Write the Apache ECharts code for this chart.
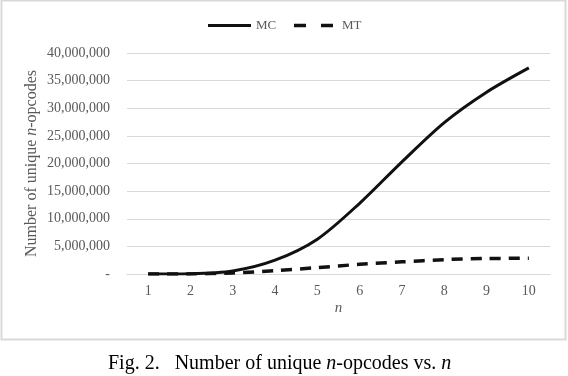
<!DOCTYPE html>
<html>
<head>
<meta charset="utf-8">
<script src="https://cdn.jsdelivr.net/npm/echarts@6/dist/echarts.min.js"></script>
<style>
  html, body { margin: 0; padding: 0; background: #fff; }
  #chart { width: 568px; height: 376px; }
</style>
</head>
<body>
<div id="chart"></div>
<script>
// n values on the x axis
var categories = ["1", "2", "3", "4", "5", "6", "7", "8", "9", "10"];
// unique n-opcode counts
var mcData = [5000, 60000, 550000, 2500000, 6300000, 12800000, 20300000, 27400000, 32900000, 37300000];
var mtData = [3000, 20000, 200000, 600000, 1150000, 1750000, 2200000, 2600000, 2800000, 2850000];

var serif = "Liberation Serif";
var grey = "#595959";

var myChart = echarts.init(document.getElementById("chart"));
var option = {
  animation: false,
  textStyle: { fontFamily: serif },
  // caption under the chart frame
  title: {
    left: 103,
    top: 349,
    text: "{a|Fig. 2.   Number of unique }{i|n}{a|-opcodes vs. }{i|n}",
    textStyle: {
      rich: {
        a: { fontFamily: serif, fontSize: 20, fontWeight: "normal", color: "#000" },
        i: { fontFamily: serif, fontSize: 20, fontWeight: "normal", color: "#000", fontStyle: "italic" }
      }
    }
  },
  // light grey frame round the chart area
  graphic: [{
    type: "rect",
    shape: { x: 1.5, y: 0.5, width: 564, height: 339 },
    style: { fill: "none", stroke: "#d9d9d9", lineWidth: 2 }
  }],
  legend: {
    top: 14,
    left: "center",
    itemWidth: 43,
    itemHeight: 14,
    itemGap: 16,
    itemStyle: { opacity: 0 },
    lineStyle: { width: 3 },
    textStyle: { fontFamily: serif, fontSize: 13, color: grey },
    data: [
      { name: "MC" },
      { name: "MT", lineStyle: { type: [12, 15], width: 3.5 } }
    ]
  },
  grid: { left: 127, right: 18, top: 53, bottom: 102 },
  xAxis: {
    type: "category",
    data: categories,
    name: "n",
    nameLocation: "middle",
    nameGap: 27,
    nameMoveOverlap: false,
    nameTextStyle: { fontFamily: serif, fontStyle: "italic", fontSize: 15, color: grey },
    axisTick: { show: false },
    axisLine: { lineStyle: { color: "#d9d9d9", width: 1 } },
    axisLabel: { fontFamily: serif, fontSize: 14, color: grey, margin: 10 }
  },
  yAxis: {
    type: "value",
    min: 0,
    max: 40000000,
    interval: 5000000,
    name: "{a|Number of unique }{i|n}{a|-opcodes}",
    nameLocation: "middle",
    nameGap: 87,
    nameMoveOverlap: false,
    nameTextStyle: {
      rich: {
        a: { fontFamily: serif, fontSize: 16, color: grey },
        i: { fontFamily: serif, fontSize: 16, color: grey, fontStyle: "italic" }
      }
    },
    axisLabel: {
      fontFamily: serif,
      fontSize: 14,
      color: grey,
      margin: 17,
      formatter: function (v) {
        if (v === 0) return "-";
        return v.toString().replace(/\B(?=(\d{3})+(?!\d))/g, ",");
      }
    },
    splitLine: { lineStyle: { color: "#d9d9d9", width: 1 } }
  },
  series: [
    {
      name: "MC",
      type: "line",
      data: mcData,
      smooth: 0.3,
      symbol: "none",
      lineStyle: { color: "#111", width: 3 },
      itemStyle: { color: "#111" }
    },
    {
      name: "MT",
      type: "line",
      data: mtData,
      smooth: 0.3,
      symbol: "none",
      lineStyle: { color: "#111", width: 3.5, type: [11, 8] },
      itemStyle: { color: "#111" }
    }
  ]
};
myChart.setOption(option);
</script>
</body>
</html>
